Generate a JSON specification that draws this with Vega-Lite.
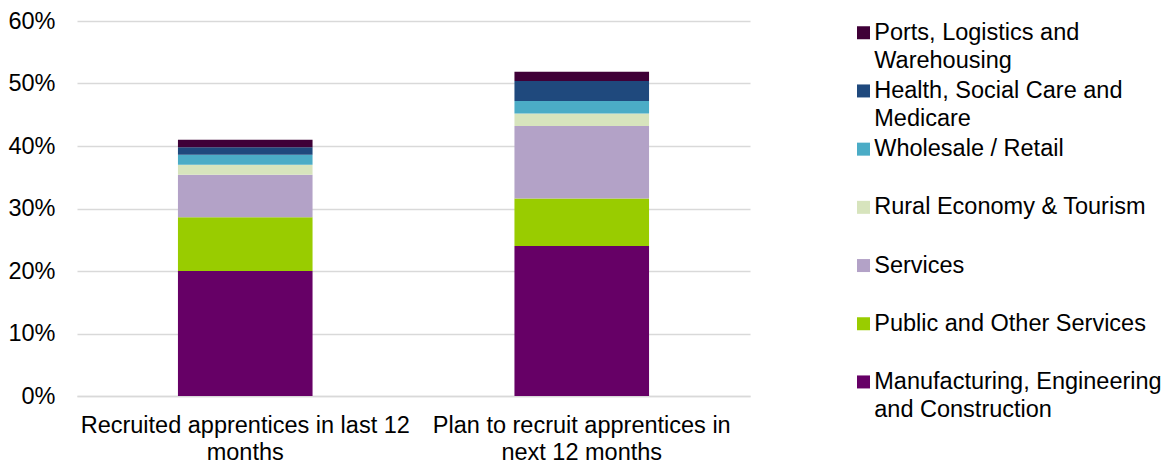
{
  "$schema": "https://vega.github.io/schema/vega-lite/v6.json",
  "width": 673,
  "height": 375,
  "autosize": {"type": "none"},
  "padding": {"left": 77, "top": 21, "right": 423, "bottom": 67},
  "background": "white",
  "config": {
    "view": {"stroke": null},
    "font": "Liberation Sans",
    "style": {"guide-label": {"lineHeight": 28}}
  },
  "data": {
    "values": [
      {"group": "Recruited apprentices in last 12 months", "sector": "Manufacturing, Engineering and Construction", "o": 1, "value": 0.200},
      {"group": "Recruited apprentices in last 12 months", "sector": "Public and Other Services", "o": 2, "value": 0.086},
      {"group": "Recruited apprentices in last 12 months", "sector": "Services", "o": 3, "value": 0.068},
      {"group": "Recruited apprentices in last 12 months", "sector": "Rural Economy & Tourism", "o": 4, "value": 0.016},
      {"group": "Recruited apprentices in last 12 months", "sector": "Wholesale / Retail", "o": 5, "value": 0.016},
      {"group": "Recruited apprentices in last 12 months", "sector": "Health, Social Care and Medicare", "o": 6, "value": 0.012},
      {"group": "Recruited apprentices in last 12 months", "sector": "Ports, Logistics and Warehousing", "o": 7, "value": 0.012},
      {"group": "Plan to recruit apprentices in next 12 months", "sector": "Manufacturing, Engineering and Construction", "o": 1, "value": 0.240},
      {"group": "Plan to recruit apprentices in next 12 months", "sector": "Public and Other Services", "o": 2, "value": 0.076},
      {"group": "Plan to recruit apprentices in next 12 months", "sector": "Services", "o": 3, "value": 0.116},
      {"group": "Plan to recruit apprentices in next 12 months", "sector": "Rural Economy & Tourism", "o": 4, "value": 0.020},
      {"group": "Plan to recruit apprentices in next 12 months", "sector": "Wholesale / Retail", "o": 5, "value": 0.020},
      {"group": "Plan to recruit apprentices in next 12 months", "sector": "Health, Social Care and Medicare", "o": 6, "value": 0.032},
      {"group": "Plan to recruit apprentices in next 12 months", "sector": "Ports, Logistics and Warehousing", "o": 7, "value": 0.015}
    ]
  },
  "mark": {"type": "bar"},
  "encoding": {
    "x": {
      "field": "group",
      "type": "nominal",
      "sort": null,
      "scale": {"paddingInner": 0.6, "paddingOuter": 0.3},
      "axis": {
        "title": null,
        "labelAngle": 0,
        "labelFontSize": 23.5,
        "labelColor": "#000000",
        "labelLineHeight": 27,
        "labelPadding": 17,
        "labelLimit": 0,
        "ticks": false,
        "domainColor": "#D9D9D9",
        "domainWidth": 1.5,
        "labelExpr": "datum.label == 'Recruited apprentices in last 12 months' ? ['Recruited apprentices in last 12', 'months'] : ['Plan to recruit apprentices in', 'next 12 months']"
      }
    },
    "y": {
      "field": "value",
      "type": "quantitative",
      "stack": "zero",
      "scale": {"domain": [0, 0.6]},
      "axis": {
        "title": null,
        "format": ".0%",
        "values": [0, 0.1, 0.2, 0.3, 0.4, 0.5, 0.6],
        "grid": true,
        "gridColor": "#D9D9D9",
        "gridWidth": 1.5,
        "domain": false,
        "ticks": false,
        "labelPadding": 22,
        "labelFontSize": 23.5,
        "labelColor": "#000000"
      }
    },
    "color": {
      "field": "sector",
      "type": "nominal",
      "scale": {
        "domain": ["Ports, Logistics and Warehousing", "Health, Social Care and Medicare", "Wholesale / Retail", "Rural Economy & Tourism", "Services", "Public and Other Services", "Manufacturing, Engineering and Construction"],
        "range": ["#3F0037", "#1F497D", "#4BACC6", "#D7E4BD", "#B3A2C7", "#99CC00", "#660066"]
      },
      "legend": {
        "title": null,
        "orient": "none",
        "legendX": 774.75,
        "legendY": 0,
        "padding": 0,
        "symbolType": "square",
        "symbolSize": 169,
        "symbolStrokeWidth": 0,
        "labelFontSize": 23.5,
        "labelColor": "#000000",
        "labelBaseline": "middle",
        "labelOffset": -1,
        "labelLimit": 0,
        "rowPadding": 5.2,
        "labelExpr": "datum.label == 'Ports, Logistics and Warehousing' ? ['Ports, Logistics and', 'Warehousing'] : datum.label == 'Health, Social Care and Medicare' ? ['Health, Social Care and', 'Medicare'] : datum.label == 'Manufacturing, Engineering and Construction' ? ['Manufacturing, Engineering', 'and Construction'] : [datum.label, ' ']"
      }
    },
    "order": {"field": "o", "type": "quantitative"}
  }
}
